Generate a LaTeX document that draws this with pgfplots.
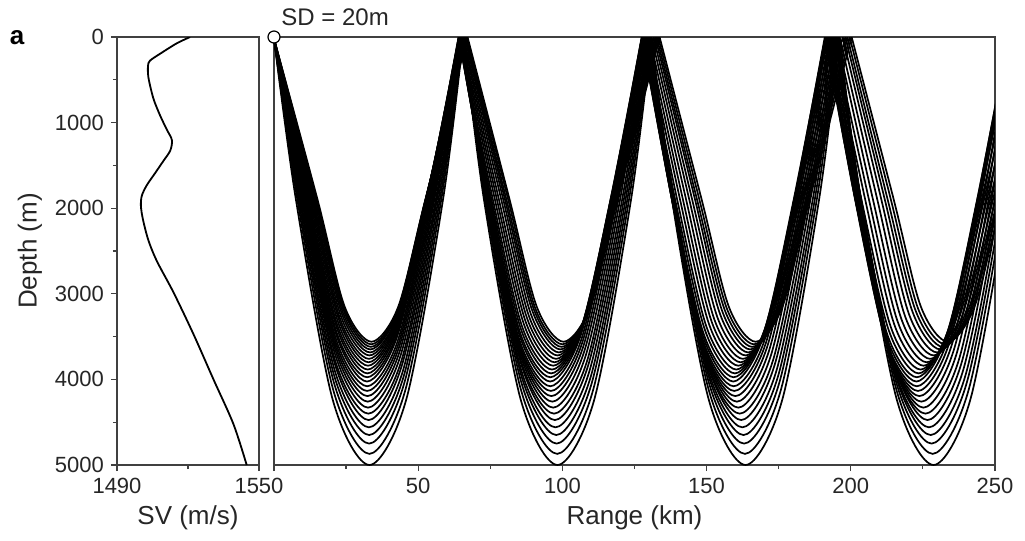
\documentclass[border=0pt]{standalone}
\usepackage{fontspec}
\setmainfont{Liberation Sans}
\usepackage{pgfplots}
\pgfplotsset{compat=1.18}

\pgfplotsset{
  panel/.style={
    scale only axis, height=214pt,
    axis line style={black!75, line width=0.7pt},
    tick style={black!75, line width=0.6pt},
    tick align=outside, major tick length=3pt, minor tick length=2pt,
    ticklabel style={font=\fontsize{11}{13}\selectfont, text=black!85},
    label style={font=\fontsize{13}{15}\selectfont, text=black!85},
    /pgf/number format/assume math mode=true,
    /pgf/number format/1000 sep={},
    y dir=reverse,
    xlabel style={at={(axis description cs:0.5,0)}, anchor=center, yshift=-26.5pt},
  },
  ray/.style={black, line width=0.85pt, smooth},
}

\begin{document}
\begin{tikzpicture}
% sound velocity profile
\begin{axis}[panel, at={(0,0)}, anchor=south west, width=71pt,
    xmin=1490, xmax=1550, ymin=0, ymax=5000,
    xtick={1490,1550}, minor xtick={1520},
    ytick={0,1000,...,5000}, minor ytick={500,1500,...,4500},
    xtick pos=bottom, ytick pos=left,
    xlabel={SV (m/s)}, ylabel={Depth (m)},
    ylabel style={at={(axis description cs:0,0.5)}, anchor=center, yshift=43.5pt},
]
\addplot[black, line width=0.9pt, smooth] coordinates {
(1520.9,0)(1515.3,73)(1508.3,194)(1504.0,275)(1503.1,336)(1503.3,477)
(1505.4,720)(1508.3,922)(1511.1,1084)(1513.2,1205)(1512.5,1327)(1509.6,1448)
(1506.1,1590)(1502.6,1731)(1500.5,1853)(1500.1,1974)(1501.0,2136)(1503.3,2378)
(1506.9,2621)(1513.9,2985)(1522.3,3471)(1530.7,3996)(1539.2,4522)(1544.8,5000)};
\end{axis}

% ray traces, depth in km
\begin{axis}[panel, at={(78.5pt,0)}, anchor=south west, width=360.5pt,
    xmin=0, xmax=250, ymin=0, ymax=5,
    xtick={0,50,...,250}, xticklabels={,50,100,150,200,250},
    minor xtick={25,75,...,225}, ytick=\empty,
    xtick pos=bottom,
    xlabel={Range (km)}, clip mode=individual,
]
\addplot[ray] coordinates {(0,0.02)(7.6,1.9)(20.3,4.23)(33.1,5)(45.9,4.23)(58.6,1.9)(65.7,0)(65.7,0)(72.8,1.9)(85.5,4.23)(98.3,5)(111.1,4.23)(123.8,1.9)(130.9,0)(130.9,0)(138.0,1.9)(150.7,4.23)(163.5,5)(176.3,4.23)(189.0,1.9)(196.1,0)(196.1,0)(203.2,1.9)(215.9,4.23)(228.7,5)(241.5,4.23)(254.2,1.9)(261.3,0)};
\addplot[ray] coordinates {(0,0.02)(8.1,1.9)(20.6,4.13)(33.1,4.87)(45.5,4.13)(58.0,1.9)(65.6,0)(65.6,0)(73.2,1.9)(85.7,4.13)(98.2,4.87)(110.6,4.13)(123.1,1.9)(130.7,0)(130.7,0)(138.3,1.9)(150.8,4.13)(163.3,4.87)(175.7,4.13)(188.2,1.9)(195.8,0)(195.8,0)(203.4,1.9)(215.9,4.13)(228.4,4.87)(240.8,4.13)(253.3,1.9)(260.9,0)};
\addplot[ray] coordinates {(0,0.02)(8.5,1.9)(20.8,4.04)(33.0,4.75)(45.2,4.04)(57.5,1.9)(65.5,0)(65.5,0)(73.5,1.9)(85.8,4.04)(98.0,4.75)(110.2,4.04)(122.5,1.9)(130.5,0)(130.5,0)(138.5,1.9)(150.8,4.04)(163.0,4.75)(175.2,4.04)(187.5,1.9)(195.5,0)(195.5,0)(203.5,1.9)(215.8,4.04)(228.0,4.75)(240.2,4.04)(252.5,1.9)(260.5,0)};
\addplot[ray] coordinates {(0,0.02)(8.9,1.9)(20.9,3.96)(33.0,4.65)(45.0,3.96)(57.0,1.9)(65.4,0)(65.4,0)(73.8,1.9)(85.8,3.96)(97.9,4.65)(109.9,3.96)(121.9,1.9)(130.3,0)(130.3,0)(138.7,1.9)(150.7,3.96)(162.8,4.65)(174.8,3.96)(186.8,1.9)(195.2,0)(195.2,0)(203.6,1.9)(215.6,3.96)(227.7,4.65)(239.7,3.96)(251.7,1.9)(260.1,0)};
\addplot[ray] coordinates {(0,0.02)(9.2,1.9)(21.1,3.9)(32.9,4.56)(44.7,3.9)(56.5,1.9)(65.3,0)(65.3,0)(74.0,1.9)(85.8,3.9)(97.6,4.56)(109.4,3.9)(121.3,1.9)(130.0,0)(130.0,0)(138.7,1.9)(150.6,3.9)(162.4,4.56)(174.2,3.9)(186.0,1.9)(194.8,0)(194.8,0)(203.5,1.9)(215.3,3.9)(227.1,4.56)(238.9,3.9)(250.8,1.9)(259.5,0)};
\addplot[ray] coordinates {(0,0.02)(9.6,1.9)(21.2,3.83)(32.8,4.475)(44.4,3.83)(56.1,1.9)(65.1,0)(65.1,0)(74.2,1.9)(85.8,3.83)(97.4,4.475)(109.0,3.83)(120.7,1.9)(129.7,0)(129.7,0)(138.8,1.9)(150.4,3.83)(162.0,4.475)(173.6,3.83)(185.3,1.9)(194.3,0)(194.3,0)(203.4,1.9)(215.0,3.83)(226.6,4.475)(238.2,3.83)(249.9,1.9)(258.9,0)};
\addplot[ray] coordinates {(0,0.02)(9.8,1.9)(21.2,3.78)(32.7,4.4)(44.2,3.78)(55.6,1.9)(64.9,0)(64.9,0)(74.2,1.9)(85.6,3.78)(97.1,4.4)(108.6,3.78)(120.0,1.9)(129.3,0)(129.3,0)(138.6,1.9)(150.0,3.78)(161.5,4.4)(173.0,3.78)(184.4,1.9)(193.7,0)(193.7,0)(203.0,1.9)(214.4,3.78)(225.9,4.4)(237.4,3.78)(248.8,1.9)(258.1,0)};
\addplot[ray] coordinates {(0,0.02)(10.0,1.9)(21.3,3.72)(32.6,4.33)(43.9,3.72)(55.2,1.9)(64.7,0)(64.7,0)(74.2,1.9)(85.5,3.72)(96.8,4.33)(108.1,3.72)(119.4,1.9)(128.9,0)(128.9,0)(138.4,1.9)(149.7,3.72)(161.0,4.33)(172.3,3.72)(183.6,1.9)(193.1,0)(193.1,0)(202.6,1.9)(213.9,3.72)(225.2,4.33)(236.5,3.72)(247.8,1.9)(257.3,0)};
\addplot[ray] coordinates {(0,0.02)(10.2,1.9)(21.4,3.67)(32.5,4.26)(43.6,3.67)(54.8,1.9)(64.5,0)(64.5,0)(74.2,1.9)(85.4,3.67)(96.5,4.26)(107.6,3.67)(118.8,1.9)(128.5,0)(128.5,0)(138.2,1.9)(149.4,3.67)(160.5,4.26)(171.6,3.67)(182.8,1.9)(192.5,0)(192.5,0)(202.2,1.9)(213.4,3.67)(224.5,4.26)(235.6,3.67)(246.8,1.9)(256.5,0)};
\addplot[ray] coordinates {(0,0.02)(10.4,1.9)(21.4,3.62)(32.4,4.195)(43.4,3.62)(54.4,1.9)(64.3,0)(64.3,0)(74.2,1.9)(85.2,3.62)(96.2,4.195)(107.2,3.62)(118.2,1.9)(128.1,0)(128.1,0)(138.0,1.9)(149.0,3.62)(160.0,4.195)(171.0,3.62)(182.0,1.9)(191.9,0)(191.9,0)(201.8,1.9)(212.8,3.62)(223.8,4.195)(234.8,3.62)(245.8,1.9)(255.7,0)};
\addplot[ray] coordinates {(0,0.02)(10.7,1.9)(21.5,3.58)(32.3,4.135)(43.2,3.58)(54.0,1.9)(64.2,0)(64.2,0)(74.3,1.9)(85.1,3.58)(96.0,4.135)(106.8,3.58)(117.6,1.9)(127.8,0)(127.8,0)(138.0,1.9)(148.8,3.58)(159.6,4.135)(170.5,3.58)(181.3,1.9)(191.5,0)(191.5,0)(201.6,1.9)(212.4,3.58)(223.3,4.135)(234.1,3.58)(244.9,1.9)(255.1,0)};
\addplot[ray] coordinates {(0,0.02)(10.9,1.9)(21.6,3.54)(32.3,4.08)(43.0,3.54)(53.7,1.9)(64.1,0)(64.1,0)(74.4,1.9)(85.1,3.54)(95.8,4.08)(106.5,3.54)(117.2,1.9)(127.6,0)(127.6,0)(138.0,1.9)(148.7,3.54)(159.4,4.08)(170.1,3.54)(180.8,1.9)(191.2,0)(191.2,0)(201.5,1.9)(212.2,3.54)(222.9,4.08)(233.6,3.54)(244.3,1.9)(254.7,0)};
\addplot[ray] coordinates {(0,0.02)(11.1,1.9)(21.7,3.49)(32.25,4.025)(42.8,3.49)(53.4,1.9)(64.0,0)(64.0,0)(74.6,1.9)(85.2,3.49)(95.75,4.025)(106.3,3.49)(116.9,1.9)(127.5,0)(127.5,0)(138.1,1.9)(148.7,3.49)(159.25,4.025)(169.8,3.49)(180.4,1.9)(191.0,0)(191.0,0)(201.6,1.9)(212.2,3.49)(222.75,4.025)(233.3,3.49)(243.9,1.9)(254.5,0)};
\addplot[ray] coordinates {(0,0.02)(11.4,1.9)(21.8,3.46)(32.3,3.975)(42.7,3.46)(53.1,1.9)(64.1,0)(64.1,0)(75.0,1.9)(85.4,3.46)(95.8,3.975)(106.3,3.46)(116.7,1.9)(127.6,0)(127.6,0)(138.5,1.9)(148.9,3.46)(159.4,3.975)(169.8,3.46)(180.2,1.9)(191.2,0)(191.2,0)(202.1,1.9)(212.5,3.46)(222.9,3.975)(233.4,3.46)(243.8,1.9)(254.7,0)};
\addplot[ray] coordinates {(0,0.02)(11.7,1.9)(22.0,3.42)(32.4,3.93)(42.7,3.42)(53.0,1.9)(64.2,0)(64.2,0)(75.4,1.9)(85.7,3.42)(96.1,3.93)(106.4,3.42)(116.7,1.9)(127.9,0)(127.9,0)(139.1,1.9)(149.4,3.42)(159.8,3.93)(170.1,3.42)(180.4,1.9)(191.6,0)(191.6,0)(202.8,1.9)(213.1,3.42)(223.5,3.93)(233.8,3.42)(244.1,1.9)(255.3,0)};
\addplot[ray] coordinates {(0,0.02)(12.0,1.9)(22.2,3.39)(32.5,3.885)(42.7,3.39)(52.9,1.9)(64.4,0)(64.4,0)(75.9,1.9)(86.1,3.39)(96.4,3.885)(106.6,3.39)(116.8,1.9)(128.3,0)(128.3,0)(139.8,1.9)(150.0,3.39)(160.3,3.885)(170.5,3.39)(180.7,1.9)(192.2,0)(192.2,0)(203.7,1.9)(213.9,3.39)(224.2,3.885)(234.4,3.39)(244.6,1.9)(256.1,0)};
\addplot[ray] coordinates {(0,0.02)(12.4,1.9)(22.5,3.36)(32.6,3.84)(42.7,3.36)(52.8,1.9)(64.7,0)(64.7,0)(76.6,1.9)(86.7,3.36)(96.8,3.84)(106.9,3.36)(117.0,1.9)(128.9,0)(128.9,0)(140.8,1.9)(150.9,3.36)(161.0,3.84)(171.1,3.36)(181.2,1.9)(193.1,0)(193.1,0)(205.0,1.9)(215.1,3.36)(225.2,3.84)(235.3,3.36)(245.4,1.9)(257.3,0)};
\addplot[ray] coordinates {(0,0.02)(12.8,1.9)(22.8,3.33)(32.8,3.8)(42.7,3.33)(52.7,1.9)(65.0,0)(65.0,0)(77.3,1.9)(87.3,3.33)(97.3,3.8)(107.2,3.33)(117.2,1.9)(129.5,0)(129.5,0)(141.8,1.9)(151.8,3.33)(161.8,3.8)(171.7,3.33)(181.7,1.9)(194.0,0)(194.0,0)(206.3,1.9)(216.3,3.33)(226.3,3.8)(236.2,3.33)(246.2,1.9)(258.5,0)};
\addplot[ray] coordinates {(0,0.02)(13.2,1.9)(23.0,3.3)(32.9,3.76)(42.8,3.3)(52.7,1.9)(65.4,0)(65.4,0)(78.0,1.9)(87.9,3.3)(97.8,3.76)(107.7,3.3)(117.5,1.9)(130.2,0)(130.2,0)(142.9,1.9)(152.7,3.3)(162.6,3.76)(172.5,3.3)(182.4,1.9)(195.1,0)(195.1,0)(207.7,1.9)(217.6,3.3)(227.5,3.76)(237.4,3.3)(247.2,1.9)(259.9,0)};
\addplot[ray] coordinates {(0,0.02)(13.5,1.9)(23.3,3.27)(33.1,3.72)(42.9,3.27)(52.7,1.9)(65.7,0)(65.7,0)(78.8,1.9)(88.5,3.27)(98.3,3.72)(108.1,3.27)(117.9,1.9)(130.9,0)(130.9,0)(144.0,1.9)(153.7,3.27)(163.5,3.72)(173.3,3.27)(183.1,1.9)(196.1,0)(196.1,0)(209.2,1.9)(218.9,3.27)(228.7,3.72)(238.5,3.27)(248.3,1.9)(261.3,0)};
\addplot[ray] coordinates {(0,0.02)(13.9,1.9)(23.6,3.24)(33.3,3.685)(43.0,3.24)(52.6,1.9)(66.1,0)(66.1,0)(79.5,1.9)(89.1,3.24)(98.8,3.685)(108.5,3.24)(118.2,1.9)(131.6,0)(131.6,0)(145.0,1.9)(154.7,3.24)(164.4,3.685)(174.1,3.24)(183.7,1.9)(197.2,0)(197.2,0)(210.6,1.9)(220.2,3.24)(229.9,3.685)(239.6,3.24)(249.3,1.9)(262.7,0)};
\addplot[ray] coordinates {(0,0.02)(14.3,1.9)(23.8,3.21)(33.4,3.65)(43.0,3.21)(52.6,1.9)(66.4,0)(66.4,0)(80.1,1.9)(89.7,3.21)(99.3,3.65)(108.9,3.21)(118.4,1.9)(132.2,0)(132.2,0)(146.0,1.9)(155.5,3.21)(165.1,3.65)(174.7,3.21)(184.3,1.9)(198.1,0)(198.1,0)(211.8,1.9)(221.4,3.21)(231.0,3.65)(240.6,3.21)(250.1,1.9)(263.9,0)};
\addplot[ray] coordinates {(0,0.02)(14.5,1.9)(24.1,3.19)(33.6,3.62)(43.0,3.19)(52.6,1.9)(66.6,0)(66.6,0)(80.6,1.9)(90.2,3.19)(99.7,3.62)(109.2,3.19)(118.7,1.9)(132.7,0)(132.7,0)(146.7,1.9)(156.3,3.19)(165.8,3.62)(175.3,3.19)(184.8,1.9)(198.8,0)(198.8,0)(212.8,1.9)(222.4,3.19)(231.9,3.62)(241.4,3.19)(250.9,1.9)(264.9,0)};
\addplot[ray] coordinates {(0,0.02)(14.8,1.9)(24.3,3.17)(33.7,3.59)(43.1,3.17)(52.5,1.9)(66.9,0)(66.9,0)(81.2,1.9)(90.6,3.17)(100.0,3.59)(109.4,3.17)(118.9,1.9)(133.2,0)(133.2,0)(147.5,1.9)(157.0,3.17)(166.4,3.59)(175.8,3.17)(185.2,1.9)(199.6,0)(199.6,0)(213.9,1.9)(223.3,3.17)(232.7,3.59)(242.1,3.17)(251.6,1.9)(265.9,0)};
\addplot[ray] coordinates {(0,0.02)(15.1,1.9)(24.5,3.15)(33.8,3.56)(43.1,3.15)(52.5,1.9)(67.1,0)(67.1,0)(81.7,1.9)(91.1,3.15)(100.4,3.56)(109.7,3.15)(119.1,1.9)(133.7,0)(133.7,0)(148.3,1.9)(157.7,3.15)(167.0,3.56)(176.3,3.15)(185.7,1.9)(200.3,0)(200.3,0)(214.9,1.9)(224.3,3.15)(233.6,3.56)(242.9,3.15)(252.3,1.9)(266.9,0)};
% source
\addplot[only marks, mark=*, mark size=3pt, mark options={fill=white, draw=black, line width=0.6pt}] coordinates {(0,0)};
\node[anchor=base west, inner sep=0pt, font=\fontsize{12}{14}\selectfont, text=black!85] at (axis cs:0,0) [xshift=3.5pt, yshift=6pt] {SD = 20m};
\end{axis}

\node[font=\fontsize{13}{15}\selectfont\bfseries] at (-50pt,213.5pt) {a};
\pgfresetboundingbox
\path (-58.5pt,-38pt) rectangle (454pt,232.5pt);
\end{tikzpicture}
\end{document}
